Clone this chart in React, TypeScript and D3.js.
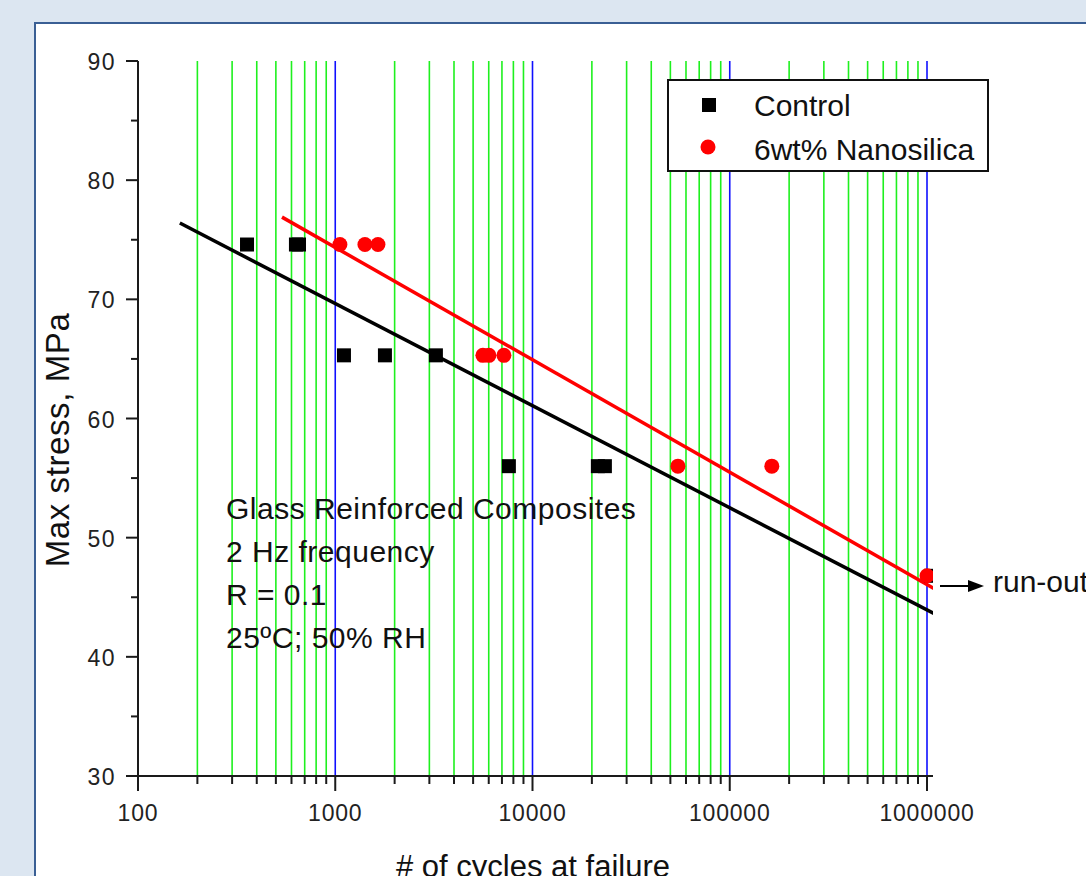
import React from "react";
import * as d3 from "d3";

// ---- data ----
const controlCycles = [357, 632, 655, 1107, 1786, 3238, 7590, 21450, 23280, 1050000];
const controlStress = [74.6, 74.6, 74.6, 65.3, 65.3, 65.3, 56.0, 56.0, 56.0, 46.8];
const nanoCycles = [1056, 1414, 1646, 5605, 6012, 7162, 54600, 163400, 1000000];
const nanoStress = [74.6, 74.6, 74.6, 65.3, 65.3, 65.3, 56.0, 56.0, 46.8];
const controlFitCycles = [163, 1095000];
const controlFitStress = [76.4, 43.6];
const nanoFitCycles = [537, 1095000];
const nanoFitStress = [76.9, 45.7];
const xMajorTicks = [100, 1000, 10000, 100000, 1000000];
const xTickLabels = ["100", "1000", "10000", "100000", "1000000"];
const yMajorTicks = [30, 40, 50, 60, 70, 80, 90];
const yMinorTicks = [35, 45, 55, 65, 75, 85];
const legendLabels = ["Control", "6wt% Nanosilica"];
const noteLines = ["Glass Reinforced Composites", "2 Hz frequency", "R = 0.1", "25ºC; 50% RH"];

const FONT = "'Liberation Sans', Arial, sans-serif";

export default function App() {
  const x = d3.scaleLog().domain([100, 1000000]).range([138, 927]);
  const y = d3.scaleLinear().domain([30, 90]).range([776, 61]);

  const xMinor: number[] = [];
  for (let dec = 100; dec < 1000000; dec *= 10) {
    for (let m = 2; m <= 9; m++) xMinor.push(dec * m);
  }

  const line = d3
    .line<[number, number]>()
    .x((d) => x(d[0]))
    .y((d) => y(d[1]));

  const controlFit = controlFitCycles.map((n, i) => [n, controlFitStress[i]] as [number, number]);
  const nanoFit = nanoFitCycles.map((n, i) => [n, nanoFitStress[i]] as [number, number]);

  const axisColor = "#1a1a1a";
  const textColor = "#111";

  return (
    <svg
      width={1086}
      height={876}
      style={{ position: "absolute", left: 0, top: 0, display: "block" }}
      fontFamily={FONT}
    >
      <defs>
        <clipPath id="plotClip">
          <rect x={126} y={40} width={807} height={760} />
        </clipPath>
      </defs>
      <rect x={0} y={0} width={1086} height={876} fill="#dce6f1" />
      <rect x={35} y={23} width={1100} height={900} fill="#ffffff" stroke="#3a5f94" strokeWidth={2} />

      {/* vertical grid */}
      {xMinor.map((v) => (
        <line key={"gm" + v} x1={x(v)} x2={x(v)} y1={y(90)} y2={y(30)} stroke="#1ef01e" strokeWidth={1.6} />
      ))}
      {xMajorTicks.slice(1).map((v) => (
        <line key={"gM" + v} x1={x(v)} x2={x(v)} y1={y(90)} y2={y(30)} stroke="#0f0fff" strokeWidth={1.6} />
      ))}

      {/* axes */}
      <line x1={138} x2={138} y1={y(90)} y2={y(30)} stroke={axisColor} strokeWidth={2} />
      <line x1={126} x2={933} y1={y(30)} y2={y(30)} stroke={axisColor} strokeWidth={2} />
      {yMajorTicks.map((v) => (
        <g key={"yt" + v}>
          <line x1={126} x2={138} y1={y(v)} y2={y(v)} stroke={axisColor} strokeWidth={2} />
          <text x={116} y={y(v) + 9} textAnchor="end" fontSize={23} fill="#222" letterSpacing={1.5}>
            {v}
          </text>
        </g>
      ))}
      {yMinorTicks.map((v) => (
        <line key={"ym" + v} x1={131} x2={138} y1={y(v)} y2={y(v)} stroke={axisColor} strokeWidth={2} />
      ))}
      {xMajorTicks.map((v, i) => (
        <g key={"xt" + v}>
          <line x1={x(v)} x2={x(v)} y1={y(30)} y2={y(30) + 15} stroke={axisColor} strokeWidth={2} />
          <text x={x(v)} y={821} textAnchor="middle" fontSize={23} fill="#222" letterSpacing={0.8}>
            {xTickLabels[i]}
          </text>
        </g>
      ))}
      {xMinor.map((v) => (
        <line key={"xm" + v} x1={x(v)} x2={x(v)} y1={y(30)} y2={y(30) + 8} stroke={axisColor} strokeWidth={2} />
      ))}

      {/* axis titles */}
      <text x={533} y={877} textAnchor="middle" fontSize={31} fill={textColor}>
        # of cycles at failure
      </text>
      <text
        transform={`translate(69, 440) rotate(-90)`}
        textAnchor="middle"
        fontSize={33}
        fill={textColor}
        letterSpacing={0.6}
      >
        Max stress, MPa
      </text>

      {/* notes */}
      {noteLines.map((t, i) => (
        <text key={"n" + i} x={226} y={519 + i * 43} fontSize={30} fill={textColor} letterSpacing={0.5}>
          {t}
        </text>
      ))}

      <g clipPath="url(#plotClip)">
        {/* fit lines */}
        <path d={line(controlFit) || ""} fill="none" stroke="#000" strokeWidth={3.5} />
        <path d={line(nanoFit) || ""} fill="none" stroke="#ff0000" strokeWidth={3.5} />

        {/* points */}
        {controlCycles.map((n, i) => (
          <rect key={"c" + i} x={x(n) - 7} y={y(controlStress[i]) - 7} width={14} height={14} fill="#000" />
        ))}
        {nanoCycles.map((n, i) => (
          <circle key={"r" + i} cx={x(n)} cy={y(nanoStress[i])} r={7.5} fill="#ff0000" />
        ))}
      </g>

      {/* run-out arrow */}
      <line x1={940} x2={970} y1={586} y2={586} stroke="#000" strokeWidth={2} />
      <path d="M968,580 L984,586 L968,592 Z" fill="#000" />
      <text x={993} y={592} fontSize={30} fill={textColor}>
        run-out
      </text>

      {/* legend */}
      <rect x={668} y={80} width={320} height={91} fill="#fff" stroke="#111" strokeWidth={2} />
      <rect x={702} y={98} width={14} height={14} fill="#000" />
      <circle cx={708} cy={147} r={7.5} fill="#ff0000" />
      <text x={754} y={116} fontSize={30} fill={textColor}>
        {legendLabels[0]}
      </text>
      <text x={754} y={160} fontSize={30} fill={textColor}>
        {legendLabels[1]}
      </text>
    </svg>
  );
}
